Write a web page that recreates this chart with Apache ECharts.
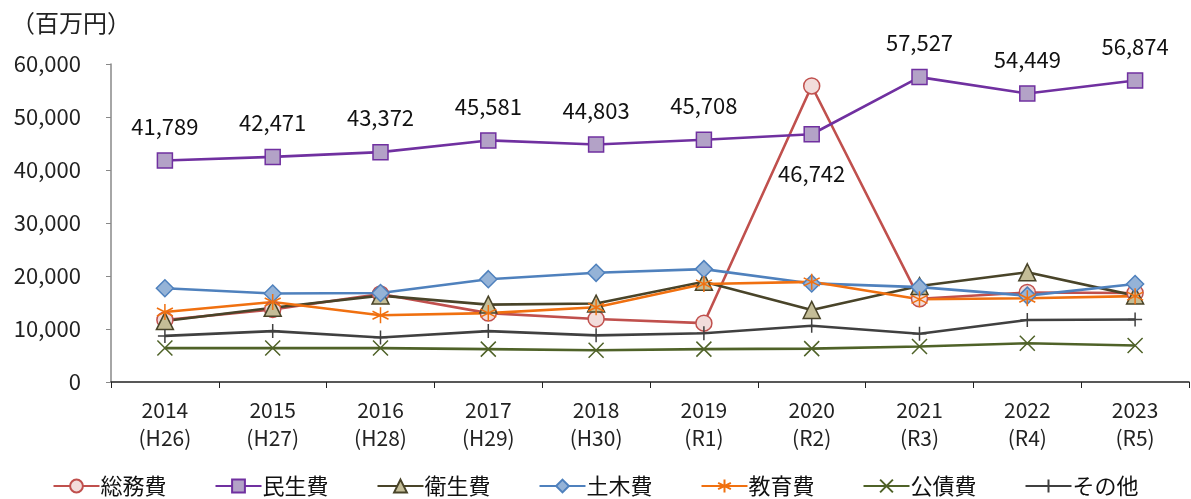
<!DOCTYPE html>
<html>
<head>
<meta charset="utf-8">
<script src="https://cdn.jsdelivr.net/npm/echarts@6/dist/echarts.min.js"></script>
<style>
  html, body { margin: 0; padding: 0; background: #fff; }
  #chart { width: 1191px; height: 499px; }
</style>
</head>
<body>
<div id="chart"></div>
<script>
// Fiscal years (western year + Japanese era year)
const categories = ['2014\n(H26)', '2015\n(H27)', '2016\n(H28)', '2017\n(H29)', '2018\n(H30)',
                    '2019\n(R1)', '2020\n(R2)', '2021\n(R3)', '2022\n(R4)', '2023\n(R5)'];

// Expenditure by purpose (million yen)
const soumu   = [11700, 13700, 16600, 13000, 11900, 11100, 55850, 15700, 16900, 16800];
const minsei  = [41789, 42471, 43372, 45581, 44803, 45708, 46742, 57527, 54449, 56874];
const eisei   = [11500, 14000, 16300, 14600, 14800, 18900, 13600, 18100, 20700, 16300];
const doboku  = [17700, 16700, 16800, 19400, 20600, 21300, 18600, 17900, 16300, 18500];
const kyouiku = [13200, 15100, 12600, 13000, 14100, 18500, 18900, 15600, 15800, 16200];
const kousai  = [6400, 6400, 6400, 6200, 6000, 6200, 6300, 6700, 7300, 6900];
const sonota  = [8700, 9600, 8400, 9600, 8800, 9200, 10600, 9100, 11700, 11800];

const yTicks = [0, 10000, 20000, 30000, 40000, 50000, 60000];

const FONT = '"Noto Sans CJK JP", "Noto Sans", sans-serif';
const fmt = v => v === 0 ? '0' : v.toLocaleString('en-US');

const SYM_X = 'path://M0,0 L10,10 M10,0 L0,10';
const SYM_PLUS = 'path://M5,0 L5,10 M0,5 L10,5';
const SYM_STAR = 'path://M5,0 L5,10 M0.7,2.5 L9.3,7.5 M9.3,2.5 L0.7,7.5';

function series(name, data, line, fill, symbol, size, extra) {
  return Object.assign({
    name: name,
    type: 'line',
    data: data,
    symbol: symbol,
    symbolSize: size,
    showAllSymbol: true,
    lineStyle: { color: line, width: 2.6 },
    itemStyle: { color: fill, borderColor: line, borderWidth: 1.5 },
    emphasis: { disabled: true },
    animation: false,
    z: 2
  }, extra || {});
}

const chart = echarts.init(document.getElementById('chart'), null, { renderer: 'canvas' });

chart.setOption({
  backgroundColor: '#fff',
  textStyle: { fontFamily: FONT },
  title: {
    text: '（百万円）',
    left: 6,
    top: 6,
    textStyle: { fontFamily: FONT, fontSize: 24, fontWeight: 'normal', color: '#222' }
  },
  grid: { left: 111, right: 2, top: 64, bottom: 117 },
  legend: {
    bottom: -3,
    left: 'center',
    itemGap: 48,
    itemWidth: 46,
    itemHeight: 16,
    textStyle: { fontFamily: FONT, fontSize: 22, color: '#111', padding: [0, 0, 0, -4] },
    data: ['総務費', '民生費', '衛生費', '土木費', '教育費', '公債費', 'その他']
  },
  xAxis: {
    type: 'category',
    data: categories,
    boundaryGap: true,
    axisLine: { lineStyle: { color: '#222', width: 1.5 } },
    axisTick: { show: true, alignWithLabel: false, length: 6, lineStyle: { color: '#222' } },
    axisLabel: { fontFamily: FONT, fontSize: 21, color: '#222', lineHeight: 28, margin: 14, interval: 0 }
  },
  yAxis: {
    type: 'value',
    min: yTicks[0],
    max: yTicks[yTicks.length - 1],
    interval: yTicks[1] - yTicks[0],
    splitLine: { show: false },
    axisLine: { show: true, lineStyle: { color: '#888', width: 1.5 } },
    axisTick: { show: true, length: 5, lineStyle: { color: '#888' } },
    axisLabel: { fontFamily: FONT, fontSize: 22, color: '#222', margin: 30, formatter: fmt }
  },
  series: [
    series('総務費', soumu, '#C0504D', '#F2DCDB', 'circle', 16),
    series('民生費', minsei, '#7030A0', '#B3A2C7', 'rect', 15, {
      label: {
        show: true,
        position: 'top',
        distance: 15,
        fontFamily: FONT,
        fontSize: 22,
        color: '#111',
        formatter: p => fmt(p.value)
      },
      labelLayout: p => p.dataIndex === 6 ? { dy: 74 } : {}
    }),
    series('衛生費', eisei, '#494429', '#C4BD97', 'triangle', 17),
    series('土木費', doboku, '#4F81BD', '#95B3D7', 'diamond', 17),
    series('教育費', kyouiku, '#F07010', '#F07010', SYM_STAR, 16, {
      itemStyle: { color: '#F07010', borderColor: '#F07010', borderWidth: 1.5 }
    }),
    series('公債費', kousai, '#4F6228', '#4F6228', SYM_X, 15, {
      itemStyle: { color: '#4F6228', borderColor: '#4F6228', borderWidth: 1.5 }
    }),
    series('その他', sonota, '#404040', '#404040', SYM_PLUS, 14, {
      itemStyle: { color: '#404040', borderColor: '#404040', borderWidth: 1.5 }
    })
  ]
});
</script>
</body>
</html>
